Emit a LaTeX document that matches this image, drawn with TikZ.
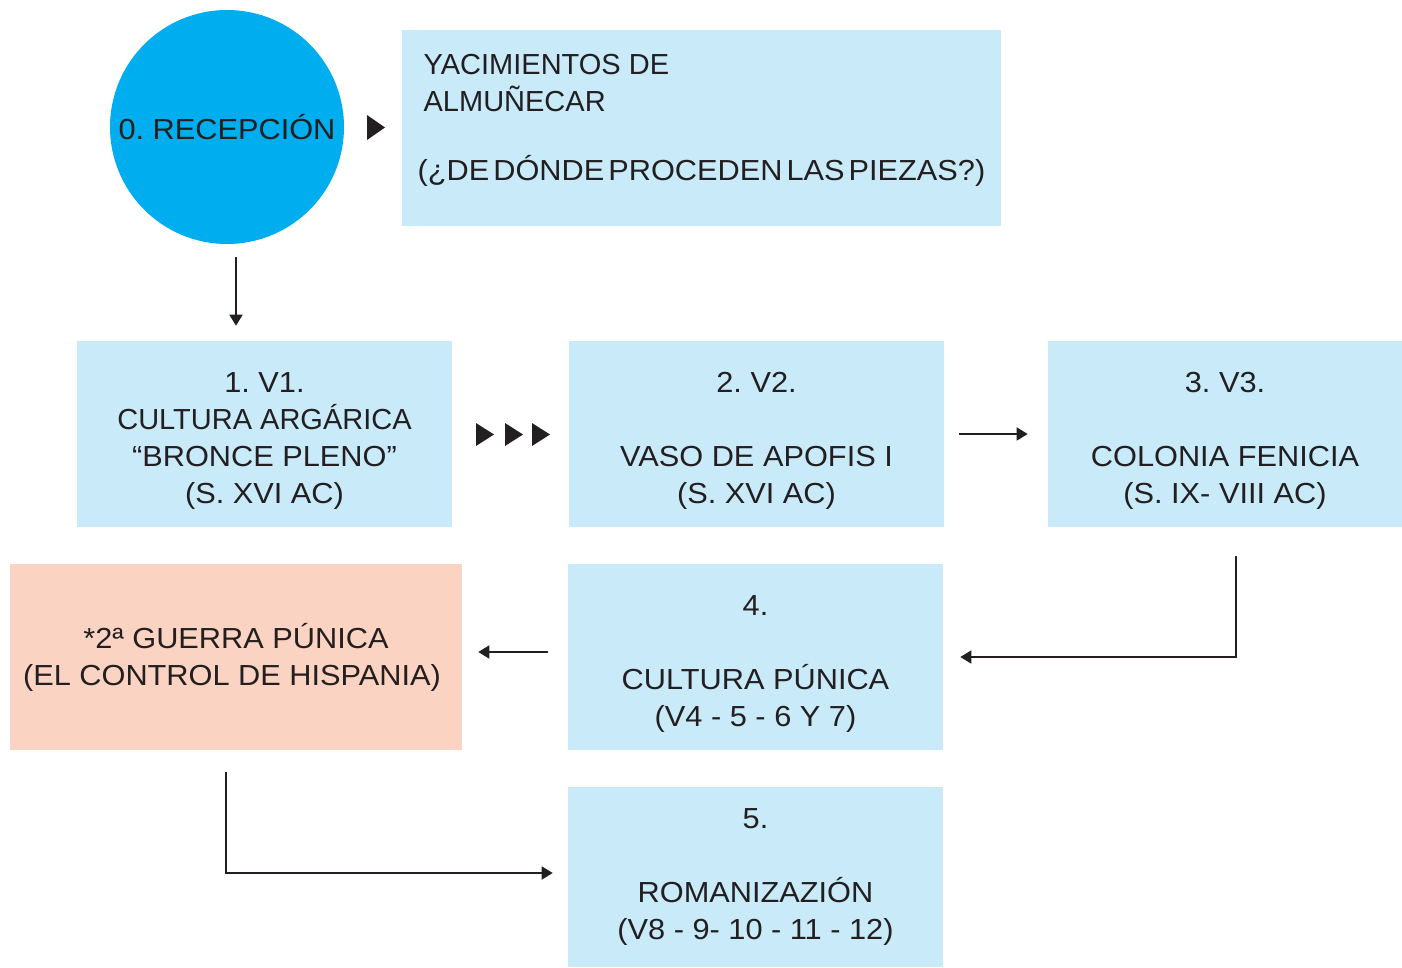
\documentclass[tikz,border=0pt]{standalone}
\usepackage{fontspec}
\setmainfont{Liberation Sans}
\newfontfamily\widefont[FakeStretch=1.06]{Liberation Sans}
\newfontfamily\plainfont{Liberation Sans}
\usepackage{tikz}
\usetikzlibrary{arrows.meta}
\frenchspacing

\definecolor{recblue}{HTML}{00AEEF}
\definecolor{boxblue}{HTML}{C8EAF9}
\definecolor{boxsalmon}{HTML}{FBD3C2}
\definecolor{ink}{HTML}{231F20}

\newcommand{\topgap}{\rule{0pt}{25.3pt}}

\tikzset{
  box/.style={rectangle, fill=boxblue, inner sep=0pt, align=center, text=ink,
    minimum width=281.25pt, minimum height=139.5pt,
    font=\widefont\fontsize{21.75}{27.75}\selectfont},
  conn/.style={draw=ink, line width=1.1pt, -{Triangle[length=8.25pt,width=9.75pt]}},
  tip/.style={fill=ink}
}

\begin{document}
\begin{tikzpicture}[x=0.75pt,y=0.75pt,yscale=-1,xscale=1]
\path[use as bounding box] (0,0) rectangle (1402,967);

% Circle
\node[circle, fill=recblue, minimum size=175.5pt, inner sep=0pt, text=ink,
  font=\widefont\fontsize{21.75}{27.75}\selectfont] (rec) at (227,127) {0. RECEPCIÓN};
% Top box
\node[box, minimum width=449.25pt, minimum height=147pt, align=left] (yac) at (701.5,128)
  {\hspace*{4.5pt}{\plainfont YACIMIENTOS DE}\\ \hspace*{4.5pt}{\plainfont ALMUÑECAR}\\[24pt]
   {\spaceskip=3pt\relax (¿DE DÓNDE PROCEDEN LAS PIEZAS?)}\rule[-16.5pt]{0pt}{1pt}};

% Row of vessels
\node[box] (v1) at (264.5,434) {\topgap 1. V1.\\ {\plainfont CULTURA ARGÁRICA}\\ “BRONCE PLENO”\\ (S. XVI AC)};
\node[box] (v2) at (756.5,434) {\topgap 2. V2.\\ ~\\ VASO DE APOFIS I\\ (S. XVI AC)};
\node[box, minimum width=265.5pt] (v3) at (1225,434) {\topgap 3. V3.\\ ~\\ COLONIA FENICIA\\ (S. IX- VIII AC)};
\node[box] (v4) at (755.5,657) {\topgap 4.\\ ~\\ CULTURA PÚNICA\\ (V4 - 5 - 6 Y 7)};
\node[box, fill=boxsalmon, minimum width=339pt] (guerra) at (236,657) {*2ª GUERRA PÚNICA\\ (EL CONTROL DE HISPANIA)\hspace*{6pt}};
\node[box, minimum height=135pt] (v5) at (755.5,877) {5.\\ ~\\ ROMANIZAZIÓN\\ (V8 - 9- 10 - 11 - 12)};

% Triangles
\fill[tip] (367,115) -- ++(18,12.5) -- ++(-18,12.5) -- cycle;
\foreach \tx in {476,505,532}
  \fill[tip] (\tx,423) -- ++(18,11.5) -- ++(-18,11.5) -- cycle;

% Connectors
\coordinate (a0) at ([xshift=6.75pt,yshift=9.75pt]rec.south);
\draw[conn, shorten >=11.25pt] (a0) -- (a0 |- v1.north);
\draw[conn, shorten <=11.25pt, shorten >=15pt] (v2) -- (v3);
\coordinate (b0) at ([xshift=8.25pt,yshift=21.75pt]v3.south);
\draw[conn] (b0) |- ([xshift=12.75pt]v4.east);
\draw[conn] ([xshift=-15pt,yshift=-3.75pt]v4.west) -- ([xshift=12pt,yshift=-3.75pt]guerra.east);
\coordinate (c0) at ([xshift=-7.5pt,yshift=16.5pt]guerra.south);
\draw[conn] (c0) |- ([xshift=-11.25pt,yshift=-3pt]v5.west);

\end{tikzpicture}
\end{document}
